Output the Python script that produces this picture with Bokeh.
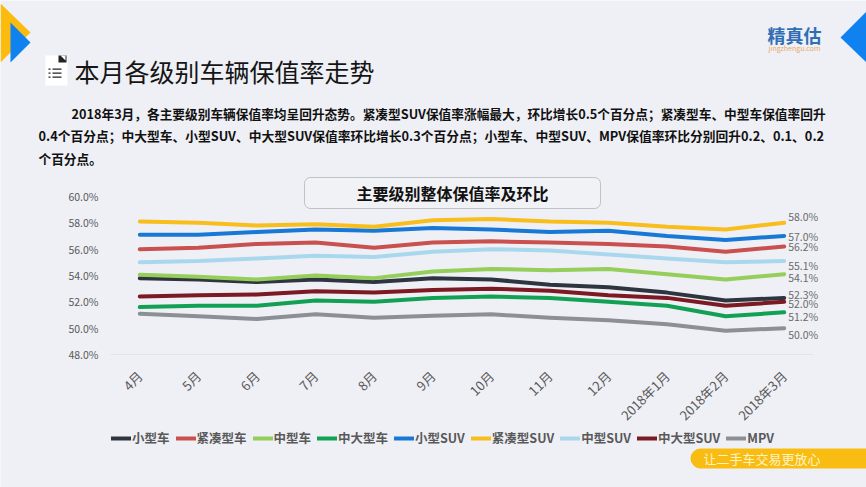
from bokeh.plotting import figure
from bokeh.embed import file_html
from bokeh.resources import INLINE
from bokeh.models import (Range1d, FixedTicker, PrintfTickFormatter, Label, LinearAxis,
                          BoxAnnotation, PolyAnnotation, Legend, LegendItem)
from math import pi

months = ["4月", "5月", "6月", "7月", "8月", "9月", "10月", "11月", "12月", "2018年1月", "2018年2月", "2018年3月"]
xiaoxing = [53.8, 53.7, 53.5, 53.7, 53.5, 53.8, 53.7, 53.3, 53.1, 52.7, 52.1, 52.3]
jincou = [56.0, 56.1, 56.4, 56.5, 56.1, 56.5, 56.6, 56.5, 56.4, 56.2, 55.8, 56.2]
zhongxing = [54.05, 53.9, 53.7, 54.0, 53.8, 54.3, 54.5, 54.4, 54.5, 54.1, 53.7, 54.1]
zhongda = [51.6, 51.7, 51.7, 52.1, 52.0, 52.3, 52.4, 52.3, 52.0, 51.7, 50.9, 51.2]
xiaosuv = [57.1, 57.1, 57.3, 57.5, 57.4, 57.6, 57.5, 57.3, 57.4, 57.0, 56.7, 57.0]
jincousuv = [58.1, 58.0, 57.8, 57.9, 57.7, 58.2, 58.3, 58.1, 58.0, 57.7, 57.5, 58.0]
zhongsuv = [55.0, 55.1, 55.3, 55.5, 55.4, 55.8, 56.0, 55.9, 55.6, 55.3, 55.0, 55.1]
zhongdasuv = [52.4, 52.5, 52.55, 52.8, 52.7, 52.9, 53.0, 52.85, 52.5, 52.3, 51.7, 52.0]
mpv = [51.1, 50.9, 50.7, 51.05, 50.8, 50.95, 51.05, 50.8, 50.6, 50.3, 49.8, 50.0]
names = ["小型车", "紧凑型车", "中型车", "中大型车", "小型SUV", "紧凑型SUV", "中型SUV", "中大型SUV", "MPV"]
y_ticks = [48, 50, 52, 54, 56, 58, 60]

series = [xiaoxing, jincou, zhongxing, zhongda, xiaosuv, jincousuv, zhongsuv, zhongdasuv, mpv]
colors = ["#2E3540", "#C9504F", "#95CE5A", "#12A154", "#1878D6", "#F7BE1D", "#A9D8EE", "#7B1A22", "#8C8F94"]
end_nudge = [3, 0, -3, -4, 0, 6, -4, -2, -6]  # px offsets of the end labels

BG = "#EFF0F5"
FONT = "Noto Sans CJK SC"
W, H = 866, 487

# The plot area fills the canvas; axes are pinned inside it so that slide texts are not clipped.
PLOT_L, PLOT_R, PLOT_T, PLOT_B = 110, 813, 196, 354
x_unit = (PLOT_R - PLOT_L) / 12
y_unit = (PLOT_B - PLOT_T) / 12
x0 = -0.5 - PLOT_L / x_unit
x1 = -0.5 + (W - PLOT_L) / x_unit
y0 = 48 - (H - PLOT_B) / y_unit
y1 = 60 + PLOT_T / y_unit

p = figure(width=W, height=H, output_backend="svg", toolbar_location=None,
           x_range=Range1d(x0, x1), y_range=Range1d(y0, y1),
           x_axis_location=None, y_axis_location=None, min_border=0)
p.background_fill_color = BG
p.border_fill_color = BG
p.outline_line_color = None
p.grid.visible = False

yax = LinearAxis(fixed_location=-0.5, bounds=(48, 60), ticker=FixedTicker(ticks=y_ticks),
                 formatter=PrintfTickFormatter(format="%.1f%%"))
yax.axis_line_color = None
yax.major_tick_line_color = None
yax.minor_tick_line_color = None
yax.major_label_text_font = FONT
yax.major_label_text_font_size = "10.5px"
yax.major_label_text_color = "#595959"
yax.major_label_standoff = 6
p.add_layout(yax, "left")

positions = list(range(len(months)))
xax = LinearAxis(fixed_location=48, bounds=(-0.5, 11.5), ticker=FixedTicker(ticks=positions),
                 major_label_overrides=dict(zip(positions, months)))
xax.axis_line_color = "#E3E4E8"
xax.major_tick_line_color = None
xax.minor_tick_line_color = None
xax.major_label_orientation = pi / 4
xax.major_label_text_font = FONT
xax.major_label_text_font_size = "13px"
xax.major_label_text_color = "#595959"
xax.major_label_standoff = 13
p.add_layout(xax, "below")


def px(x):  # page pixel -> frame-relative screen x
    return x


def py(y):  # page pixel -> frame-relative screen y (upwards)
    return H - y


def text(x, y, s, size, color="#111111", style="normal", align="left", font=FONT):
    p.add_layout(Label(x=px(x), y=py(y), x_units="screen", y_units="screen", text=s,
                       text_font=font, text_font_size=f"{size}px", text_color=color,
                       text_font_style=style, text_align=align, text_baseline="middle",
                       level="overlay"))


def poly(xs, ys, color):
    p.add_layout(PolyAnnotation(xs=[px(v) for v in xs], ys=[py(v) for v in ys],
                                xs_units="screen", ys_units="screen", fill_color=color,
                                fill_alpha=1, line_color=None, level="overlay"))


def box(l, t, r, b, fill, line=None, radius=0, lw=1):
    p.add_layout(BoxAnnotation(left=px(l), right=px(r), top=py(t), bottom=py(b),
                               left_units="screen", right_units="screen",
                               top_units="screen", bottom_units="screen",
                               fill_color=fill, fill_alpha=1, line_color=line, line_width=lw,
                               border_radius=radius, level="overlay"))


# data lines
items = []
for name, vals, col in zip(names, series, colors):
    r = p.line(positions, vals, line_color=col, line_width=4, line_cap="round", line_join="round")
    items.append(LegendItem(label=name, renderers=[r]))

# end labels
for vals, nudge in zip(series, end_nudge):
    p.add_layout(Label(x=positions[-1], y=vals[-1], x_offset=4, y_offset=nudge, text=f"{vals[-1]:.1f}%",
                       text_font=FONT, text_font_size="10.5px", text_color="#6A6A6A",
                       text_baseline="middle"))

legend = Legend(items=items, orientation="horizontal", location=(px(111), py(447)),
                background_fill_alpha=0, border_line_color=None, padding=0, margin=0,
                spacing=6, label_standoff=1, glyph_width=20, glyph_height=10,
                label_text_font=FONT, label_text_font_size="12.5px", label_text_font_style="bold",
                label_text_color="#595959", label_height=14)
p.add_layout(legend, "center")

# slide decoration
poly([0, 30, 0], [3, 32, 62], "#FBBB0F")
poly([10, 30, 10], [22, 42, 62], "#0F82F0")
poly([840, 866, 866], [37, 11, 62], "#0F82F0")

box(45, 55, 67, 85, "#FFFFFF")
box(58, 55, 66, 62, "#222222")
poly([60, 65, 65], [55, 55, 60], "#FFFFFF")
for yy in (68, 72, 76):
    box(48, yy, 50, yy + 1.3, "#222222")
    box(52, yy, 61, yy + 1.3, "#222222")

text(74, 70, "本月各级别车辆保值率走势", 25, "#151515")
text(71, 113, "2018年3月，各主要级别车辆保值率均呈回升态势。紧凑型SUV保值率涨幅最大，环比增长0.5个百分点；紧凑型车、中型车保值率回升", 12.7, style="bold")
text(38, 135, "0.4个百分点；中大型车、小型SUV、中大型SUV保值率环比增长0.3个百分点；小型车、中型SUV、MPV保值率环比分别回升0.2、0.1、0.2", 12.75, style="bold")
text(38, 158, "个百分点。", 12.7, style="bold")

text(794, 34, "精真估", 18, "#2F6DB5", "bold", "center")
text(794, 47, "jingzhengu.com", 7, "#E8A868", "normal", "center")

box(304, 177, 600, 208, "#F1F2F6", "#555555", 6)
text(452, 192, "主要级别整体保值率及环比", 16, "#111111", "bold", "center")

box(690, 448, 866, 468, "#F9BC12", None, (10, 0, 0, 10))
text(703, 458, "让二手车交易更放心", 13, "#FFF4C8")

open("out.html", "w").write(file_html(p, INLINE))
